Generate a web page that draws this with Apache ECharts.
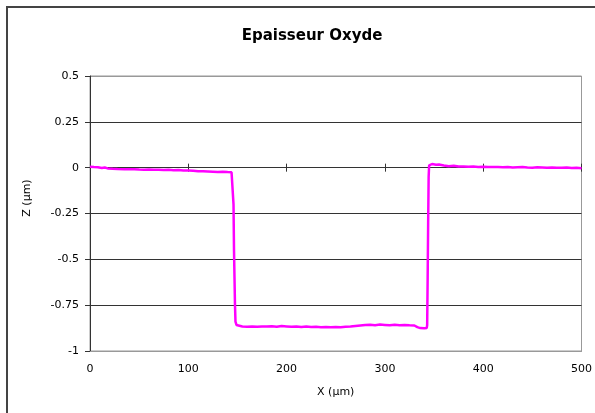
<!DOCTYPE html>
<html>
<head>
<meta charset="utf-8">
<script src="https://cdn.jsdelivr.net/npm/echarts@6/dist/echarts.min.js"></script>
<style>html,body{margin:0;padding:0;background:#fff}#c{width:595px;height:413px}</style>
</head>
<body>
<div id="c"></div>
<script>
var titleText = 'Epaisseur Oxyde';
var xName = 'X (µm)';
var yName = 'Z (µm)';
var xTicks = [0, 100, 200, 300, 400, 500];
var yTicks = [-1, -0.75, -0.5, -0.25, 0, 0.25, 0.5];

var xValues = [
  0, 2, 4, 6, 8, 10, 12, 15, 18, 20, 23, 25, 28, 30, 35, 40, 45, 50, 55, 60,
  65, 70, 75, 80, 85, 90, 95, 100, 105, 110, 115, 120, 125, 130, 135, 140, 144, 145.5,
  146, 146.5, 147, 147.5, 148, 149,
  150, 155, 160, 165, 170, 175, 180, 185, 190, 195, 200, 205, 210, 215, 220, 225,
  230, 235, 240, 245, 250, 255, 260, 265, 270, 275, 280, 285, 290, 295, 300, 305,
  310, 315, 320, 325, 330, 333, 336, 340, 342.5,
  343, 343.5, 344, 344.5, 345,
  348, 352, 355, 360, 365, 370, 375, 380, 385, 390, 395, 400, 405, 410, 415, 420,
  425, 430, 435, 440, 445, 450, 455, 460, 465, 470, 475, 480, 485, 490, 495, 500
];
var zValues = [
  0.005, 0.008, 0.003, 0.006, 0.002, 0.004, -0.002, 0.001, -0.004, -0.003, -0.006, -0.004, -0.007, -0.006, -0.008, -0.009, -0.008, -0.010, -0.011, -0.010,
  -0.012, -0.011, -0.013, -0.012, -0.014, -0.013, -0.015, -0.016, -0.017, -0.019, -0.020, -0.021, -0.022, -0.023, -0.022, -0.024, -0.025, -0.027,
  -0.2, -0.45, -0.6, -0.75, -0.84, -0.858,
  -0.862, -0.866, -0.868, -0.866, -0.868, -0.866, -0.867, -0.865, -0.868, -0.864, -0.866, -0.868, -0.866, -0.869, -0.867, -0.869,
  -0.868, -0.870, -0.869, -0.871, -0.869, -0.870, -0.868, -0.867, -0.864, -0.861, -0.858, -0.857, -0.859, -0.856, -0.858, -0.860,
  -0.857, -0.859, -0.858, -0.860, -0.861, -0.870, -0.875, -0.876, -0.874,
  -0.86, -0.6, -0.3, -0.05, 0.012,
  0.02, 0.016, 0.017, 0.012, 0.008, 0.010, 0.006, 0.007, 0.005, 0.006, 0.004, 0.005, 0.003, 0.004, 0.003, 0.002,
  0.004, 0.001, 0.002, 0.003, 0.001, 0.000, 0.002, 0.001, -0.001, 0.001, 0.000, -0.001, 0.001, -0.002, -0.001, -0.003
];

var points = xValues.map(function (x, i) { return [x, zValues[i]]; });

var chart = echarts.init(document.getElementById('c'), null, {renderer: 'canvas'});
var fontFam = 'DejaVu Sans';
var xBase = {
  type: 'value', min: xTicks[0], max: xTicks[xTicks.length - 1], interval: xTicks[1] - xTicks[0],
  splitLine: {show: false}
};
chart.setOption({
  animation: false,
  backgroundColor: '#fff',
  title: {
    text: titleText, left: 307, top: 24, textAlign: 'center',
    textStyle: {fontFamily: fontFam, fontSize: 15, fontWeight: 'bold', color: '#000'}
  },
  grid: {left: 90, right: 10, top: 76, bottom: 62, show: true, borderColor: '#999', borderWidth: 1},
  xAxis: [
    Object.assign({}, xBase, {
      position: 'bottom',
      axisLine: {onZero: false, lineStyle: {color: '#999', width: 1}},
      axisTick: {show: false},
      axisLabel: {color: '#000', fontFamily: fontFam, fontSize: 11, margin: 13},
      name: xName, nameLocation: 'middle', nameGap: 36,
      nameTextStyle: {color: '#000', fontFamily: fontFam, fontSize: 11}
    }),
    Object.assign({}, xBase, {
      position: 'bottom',
      axisLine: {onZero: true, onZeroAxisIndex: 0, lineStyle: {color: '#333', width: 1}},
      axisTick: {show: true, inside: true, length: 4, lineStyle: {color: '#333'}},
      axisLabel: {show: false}
    }),
    Object.assign({}, xBase, {
      position: 'bottom',
      axisLine: {onZero: true, onZeroAxisIndex: 0, lineStyle: {color: '#333', width: 1}},
      axisTick: {show: true, inside: false, length: 4, lineStyle: {color: '#333'}},
      axisLabel: {show: false}
    })
  ],
  yAxis: {
    type: 'value', min: yTicks[0], max: yTicks[yTicks.length - 1], interval: yTicks[1] - yTicks[0],
    axisLine: {show: true, onZero: false, lineStyle: {color: '#333', width: 1}},
    axisTick: {show: true, inside: false, length: 5, lineStyle: {color: '#333'}},
    axisLabel: {color: '#000', fontFamily: fontFam, fontSize: 11, margin: 11,
      formatter: function (v) { return String(Math.round(v * 100) / 100); }},
    splitLine: {show: true, lineStyle: {color: ['#999', '#333', '#333', '#333', '#333', '#333', '#999'], width: 1}}
  },
  graphic: [
    {type: 'rect', shape: {x: 7, y: 7, width: 800, height: 600}, style: {fill: 'none', stroke: '#444', lineWidth: 2}, silent: true},
    {type: 'text', x: 27, y: 198, rotation: Math.PI / 2,
      style: {text: yName, fill: '#000', font: '11px "DejaVu Sans"', align: 'center', verticalAlign: 'middle'}}
  ],
  series: [{
    type: 'line', xAxisIndex: 0, yAxisIndex: 0, data: points, showSymbol: false, symbol: 'none',
    lineStyle: {color: '#FF00FF', width: 2.5}, z: 5
  }]
});
</script>
</body>
</html>
